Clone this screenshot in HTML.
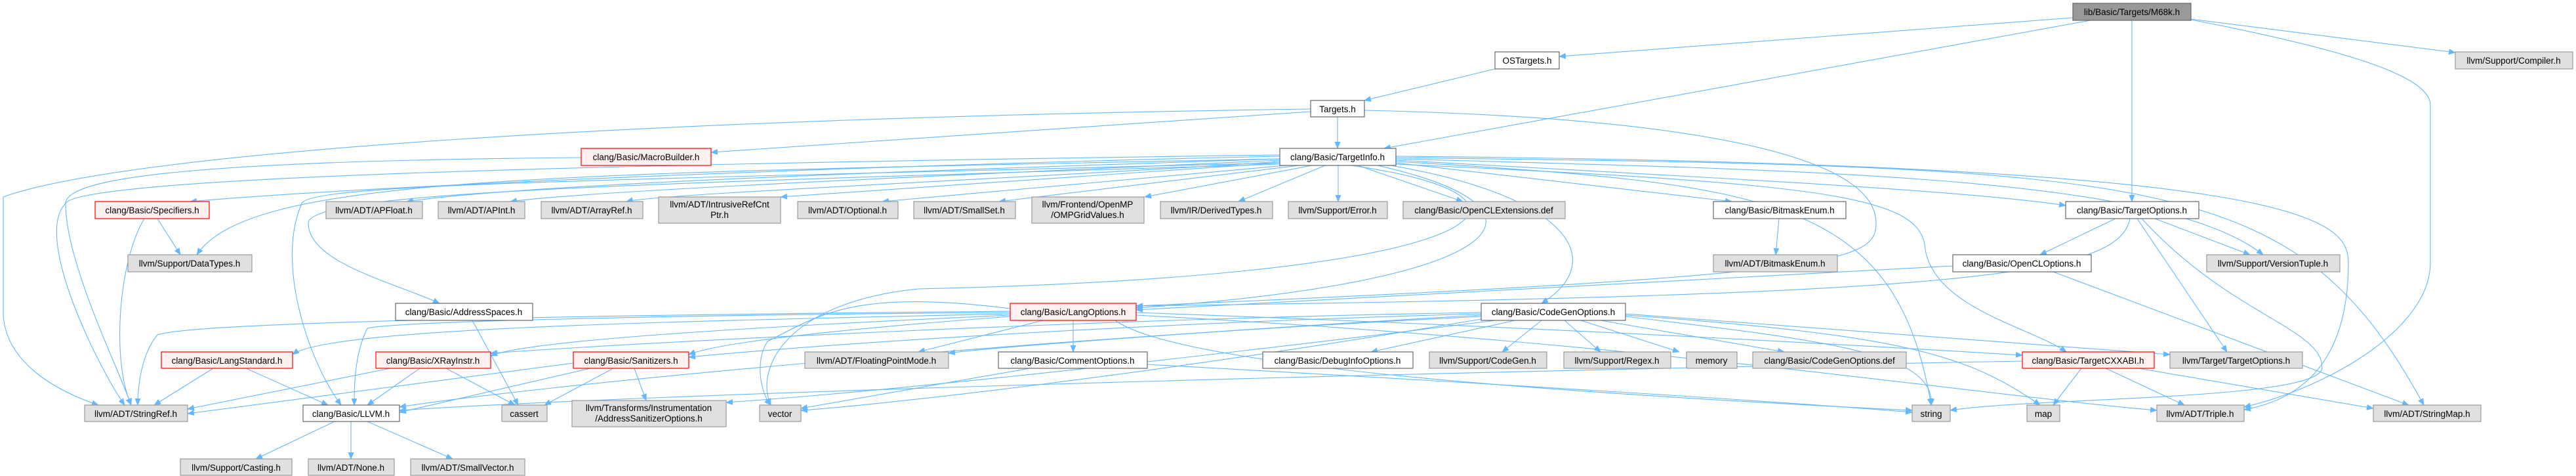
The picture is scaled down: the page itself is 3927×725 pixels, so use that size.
<!DOCTYPE html>
<html><head><meta charset="utf-8"><style>
html,body{margin:0;padding:0;background:#fff;}
svg{display:block;}
text{font-family:"Liberation Sans",sans-serif;font-size:13.5px;fill:#000;}
.g{fill:#e0e0e0;stroke:#999;stroke-width:1.2;}
.w{fill:#fff;stroke:#666;stroke-width:1.2;}
.r{fill:#fff0f0;stroke:#f00;stroke-width:1.2;}
.d{fill:#999;stroke:#666;stroke-width:1.2;}
.e path{fill:none;stroke:#63b8ff;stroke-width:1.1;marker-end:url(#a);}
</style></head><body>
<svg width="3927" height="725" viewBox="0 0 3927 725" xmlns="http://www.w3.org/2000/svg">
<defs><marker id="a" markerWidth="11" markerHeight="9" refX="10" refY="4.5" orient="auto" markerUnits="userSpaceOnUse"><path d="M0,0 L11,4.5 L0,9 z" fill="#63b8ff"/></marker></defs>
<g class="e">
<path d="M3160,27 L2377,86"/>
<path d="M3187,31 L2110,226"/>
<path d="M3250,31 L3250,307"/>
<path d="M3340,29 L3743,80"/>
<path d="M3340,30 C3600,80 3705,120 3705,160 L3705,400 C3705,500 3550,590 3421,620"/>
<path d="M2279,105 L2080,153"/>
<path d="M2039,178 L2039,226"/>
<path d="M1998,170 L1084,232"/>
<path d="M1998,166 C1000,180 200,230 5,300 L5,480 C10,560 100,600 150,617"/>
<path d="M2080,168 C2600,180 2860,240 2860,340 C2860,400 2800,420 1732,466"/>
<path d="M1951,238 C1400,250 600,280 290,307"/>
<path d="M1951,242 C800,265 380,270 300,388"/>
<path d="M1951,242 C1400,260 800,280 620,307"/>
<path d="M1951,244 C1500,265 900,290 778,307"/>
<path d="M1951,246 C1600,270 1000,295 955,307"/>
<path d="M1951,248 L1190,300"/>
<path d="M1960,252 L1345,307"/>
<path d="M1980,252 L1523,307"/>
<path d="M2000,252 L1745,300"/>
<path d="M2020,252 L1888,307"/>
<path d="M2040,252 L2040,307"/>
<path d="M2070,252 L2230,307"/>
<path d="M2128,248 L2640,307"/>
<path d="M2128,244 C2600,270 3000,290 3149,313"/>
<path d="M2128,242 C2800,260 3300,270 3450,388"/>
<path d="M2128,240 C3300,255 3500,260 3695,617"/>
<path d="M2128,238 C3500,250 3580,330 3580,400 C3580,560 3500,610 3421,624"/>
<path d="M2128,246 C2700,280 2890,300 2944,617"/>
<path d="M2128,250 C2800,280 2930,300 2935,380 C2950,470 3100,500 3150,536"/>
<path d="M2120,252 C2400,300 2450,400 2350,462"/>
<path d="M2100,252 C2400,320 2300,430 1732,469"/>
<path d="M1951,250 C1000,280 470,290 470,340 C470,400 600,430 670,462"/>
<path d="M1951,248 C900,275 470,280 460,310 C420,400 470,550 520,617"/>
<path d="M1951,236 C900,250 120,270 100,310 C50,360 150,560 190,617"/>
<path d="M2060,252 C2400,300 2300,420 1400,440 C1200,460 1150,560 1175,617"/>
<path d="M886,240 C300,245 100,270 100,310 C100,400 180,560 200,617"/>
<path d="M240,333 L275,388"/>
<path d="M220,333 C180,400 170,550 200,617"/>
<path d="M720,488 L790,617"/>
<path d="M2712,333 L2707,388"/>
<path d="M3225,333 L3110,388"/>
<path d="M3285,333 L3430,388"/>
<path d="M3258,333 L3395,536"/>
<path d="M3265,333 C3400,480 3540,500 3540,560 C3540,610 3100,605 2973,625"/>
<path d="M3247,333 C3230,420 3000,450 1732,466"/>
<path d="M2977,405 L1732,472"/>
<path d="M3130,414 L3672,617"/>
<path d="M1636,488 L1636,536"/>
<path d="M1590,488 L1400,536"/>
<path d="M1540,482 C1300,500 1100,520 1050,540"/>
<path d="M1540,478 C1000,490 500,500 446,540"/>
<path d="M1540,480 C1100,500 800,520 748,542"/>
<path d="M1540,476 C1000,480 600,490 560,500 C540,540 540,590 540,617"/>
<path d="M1540,474 C900,480 300,490 240,510 C215,540 210,590 210,617"/>
<path d="M1540,470 C1300,440 1250,480 1170,520 C1150,550 1160,600 1175,617"/>
<path d="M1700,488 C1800,560 2400,600 2915,625"/>
<path d="M1732,480 C2500,520 3000,600 3288,625"/>
<path d="M1732,476 C2400,500 2900,530 3083,541"/>
<path d="M2310,488 L2090,536"/>
<path d="M2350,488 L2290,536"/>
<path d="M2385,488 L2440,536"/>
<path d="M2410,488 L2560,536"/>
<path d="M2440,488 L2720,536"/>
<path d="M2478,482 C2800,520 2950,540 2944,617"/>
<path d="M2478,480 C2900,510 3000,540 3110,617"/>
<path d="M2478,478 L3308,540"/>
<path d="M2258,478 C1800,490 1300,520 1050,544"/>
<path d="M2258,476 C1700,485 1000,520 748,538"/>
<path d="M2258,480 C1900,500 1500,530 1446,538"/>
<path d="M2258,482 C1500,520 800,590 609,620"/>
<path d="M2280,488 C1700,560 1300,600 1107,613"/>
<path d="M2258,486 C1700,580 1300,620 1221,625"/>
<path d="M1570,561 L1221,622"/>
<path d="M1749,555 C2200,580 2700,610 2915,628"/>
<path d="M325,561 L235,617"/>
<path d="M375,561 L500,617"/>
<path d="M595,561 L286,623"/>
<path d="M640,561 L560,617"/>
<path d="M680,561 L785,617"/>
<path d="M874,553 L286,630"/>
<path d="M900,561 L609,628"/>
<path d="M935,561 L830,617"/>
<path d="M967,561 L985,610"/>
<path d="M3173,561 L3130,617"/>
<path d="M3210,561 L3330,617"/>
<path d="M3260,561 L3618,622"/>
<path d="M3083,550 C2000,570 1000,600 609,625"/>
<path d="M510,642 L390,699"/>
<path d="M535,642 L535,699"/>
<path d="M560,642 L690,699"/>
</g>
<g>
<rect class="d" x="3160" y="5" width="180" height="26"/><text x="3250" y="23" text-anchor="middle">lib/Basic/Targets/M68k.h</text>
<rect class="w" x="2279" y="79" width="98" height="26"/><text x="2328" y="97" text-anchor="middle">OSTargets.h</text>
<rect class="g" x="3743" y="79" width="179" height="26"/><text x="3832" y="97" text-anchor="middle">llvm/Support/Compiler.h</text>
<rect class="w" x="1998" y="153" width="82" height="25"/><text x="2039" y="171" text-anchor="middle">Targets.h</text>
<rect class="w" x="1951" y="226" width="177" height="26"/><text x="2039" y="244" text-anchor="middle">clang/Basic/TargetInfo.h</text>
<rect class="r" x="886" y="226" width="198" height="26"/><text x="985" y="244" text-anchor="middle">clang/Basic/MacroBuilder.h</text>

<rect class="r" x="145" y="307" width="174" height="26"/><text x="232" y="325" text-anchor="middle">clang/Basic/Specifiers.h</text>
<rect class="g" x="497" y="307" width="147" height="26"/><text x="570" y="325" text-anchor="middle">llvm/ADT/APFloat.h</text>
<rect class="g" x="668" y="307" width="132" height="26"/><text x="734" y="325" text-anchor="middle">llvm/ADT/APInt.h</text>
<rect class="g" x="825" y="307" width="155" height="26"/><text x="902" y="325" text-anchor="middle">llvm/ADT/ArrayRef.h</text>
<rect class="g" x="1004" y="300" width="186" height="40"/><text x="1097" y="316" text-anchor="middle">llvm/ADT/IntrusiveRefCnt</text><text x="1097" y="332" text-anchor="middle">Ptr.h</text>
<rect class="g" x="1216" y="307" width="153" height="26"/><text x="1292" y="325" text-anchor="middle">llvm/ADT/Optional.h</text>
<rect class="g" x="1393" y="307" width="155" height="26"/><text x="1470" y="325" text-anchor="middle">llvm/ADT/SmallSet.h</text>
<rect class="g" x="1573" y="300" width="171" height="40"/><text x="1658" y="316" text-anchor="middle">llvm/Frontend/OpenMP</text><text x="1658" y="332" text-anchor="middle">/OMPGridValues.h</text>
<rect class="g" x="1769" y="307" width="171" height="26"/><text x="1854" y="325" text-anchor="middle">llvm/IR/DerivedTypes.h</text>
<rect class="g" x="1964" y="307" width="151" height="26"/><text x="2039" y="325" text-anchor="middle">llvm/Support/Error.h</text>
<rect class="g" x="2139" y="307" width="247" height="26"/><text x="2262" y="325" text-anchor="middle">clang/Basic/OpenCLExtensions.def</text>
<rect class="w" x="2612" y="307" width="202" height="26"/><text x="2713" y="325" text-anchor="middle">clang/Basic/BitmaskEnum.h</text>
<rect class="w" x="3149" y="307" width="203" height="26"/><text x="3250" y="325" text-anchor="middle">clang/Basic/TargetOptions.h</text>

<rect class="g" x="195" y="388" width="189" height="26"/><text x="289" y="406" text-anchor="middle">llvm/Support/DataTypes.h</text>
<rect class="g" x="2612" y="388" width="189" height="26"/><text x="2706" y="406" text-anchor="middle">llvm/ADT/BitmaskEnum.h</text>
<rect class="w" x="2977" y="388" width="211" height="26"/><text x="3082" y="406" text-anchor="middle">clang/Basic/OpenCLOptions.h</text>
<rect class="g" x="3364" y="388" width="203" height="26"/><text x="3465" y="406" text-anchor="middle">llvm/Support/VersionTuple.h</text>

<rect class="w" x="603" y="462" width="209" height="26"/><text x="707" y="480" text-anchor="middle">clang/Basic/AddressSpaces.h</text>
<rect class="r" x="1540" y="462" width="192" height="26"/><text x="1636" y="480" text-anchor="middle">clang/Basic/LangOptions.h</text>
<rect class="w" x="2258" y="462" width="220" height="26"/><text x="2368" y="480" text-anchor="middle">clang/Basic/CodeGenOptions.h</text>

<rect class="r" x="246" y="536" width="200" height="25"/><text x="346" y="554" text-anchor="middle">clang/Basic/LangStandard.h</text>
<rect class="r" x="573" y="536" width="175" height="25"/><text x="660" y="554" text-anchor="middle">clang/Basic/XRayInstr.h</text>
<rect class="r" x="874" y="536" width="176" height="25"/><text x="962" y="554" text-anchor="middle">clang/Basic/Sanitizers.h</text>
<rect class="g" x="1227" y="536" width="219" height="25"/><text x="1336" y="554" text-anchor="middle">llvm/ADT/FloatingPointMode.h</text>
<rect class="w" x="1522" y="536" width="227" height="25"/><text x="1635" y="554" text-anchor="middle">clang/Basic/CommentOptions.h</text>
<rect class="w" x="1925" y="536" width="229" height="25"/><text x="2039" y="554" text-anchor="middle">clang/Basic/DebugInfoOptions.h</text>
<rect class="g" x="2179" y="536" width="179" height="25"/><text x="2268" y="554" text-anchor="middle">llvm/Support/CodeGen.h</text>
<rect class="g" x="2384" y="536" width="163" height="25"/><text x="2465" y="554" text-anchor="middle">llvm/Support/Regex.h</text>
<rect class="g" x="2571" y="536" width="77" height="25"/><text x="2609" y="554" text-anchor="middle">memory</text>
<rect class="g" x="2672" y="536" width="234" height="25"/><text x="2789" y="554" text-anchor="middle">clang/Basic/CodeGenOptions.def</text>
<rect class="r" x="3083" y="536" width="201" height="25"/><text x="3183" y="554" text-anchor="middle">clang/Basic/TargetCXXABI.h</text>
<rect class="g" x="3308" y="536" width="202" height="25"/><text x="3409" y="554" text-anchor="middle">llvm/Target/TargetOptions.h</text>

<rect class="g" x="129" y="617" width="157" height="25"/><text x="207" y="635" text-anchor="middle">llvm/ADT/StringRef.h</text>
<rect class="w" x="462" y="617" width="147" height="25"/><text x="535" y="635" text-anchor="middle">clang/Basic/LLVM.h</text>
<rect class="g" x="765" y="617" width="69" height="25"/><text x="799" y="635" text-anchor="middle">cassert</text>
<rect class="g" x="872" y="610" width="235" height="40"/><text x="989" y="626" text-anchor="middle">llvm/Transforms/Instrumentation</text><text x="989" y="642" text-anchor="middle">/AddressSanitizerOptions.h</text>
<rect class="g" x="1158" y="617" width="63" height="25"/><text x="1189" y="635" text-anchor="middle">vector</text>
<rect class="g" x="2915" y="617" width="58" height="25"/><text x="2944" y="635" text-anchor="middle">string</text>
<rect class="g" x="3090" y="617" width="50" height="25"/><text x="3115" y="635" text-anchor="middle">map</text>
<rect class="g" x="3288" y="617" width="133" height="25"/><text x="3354" y="635" text-anchor="middle">llvm/ADT/Triple.h</text>
<rect class="g" x="3618" y="617" width="164" height="25"/><text x="3700" y="635" text-anchor="middle">llvm/ADT/StringMap.h</text>

<rect class="g" x="275" y="699" width="170" height="25"/><text x="360" y="717" text-anchor="middle">llvm/Support/Casting.h</text>
<rect class="g" x="470" y="699" width="131" height="25"/><text x="535" y="717" text-anchor="middle">llvm/ADT/None.h</text>
<rect class="g" x="626" y="699" width="174" height="25"/><text x="713" y="717" text-anchor="middle">llvm/ADT/SmallVector.h</text>
</g>
</svg>
</body></html>
